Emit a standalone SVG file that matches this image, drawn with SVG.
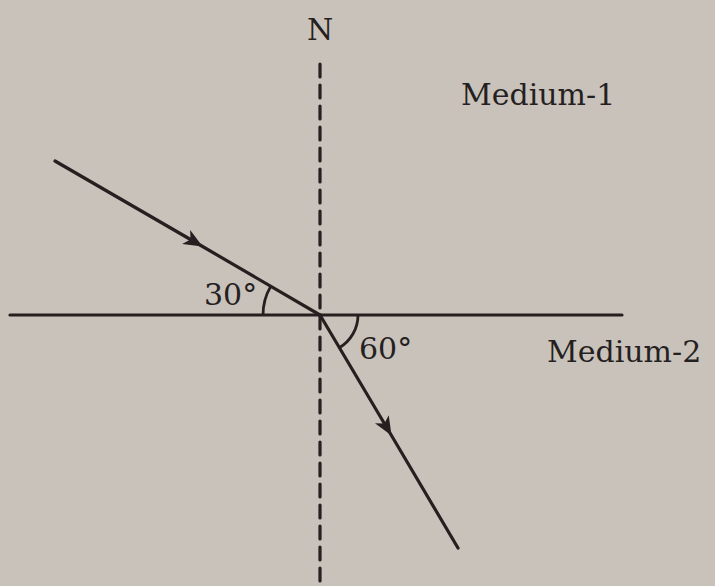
<svg xmlns="http://www.w3.org/2000/svg" width="715" height="586" viewBox="0 0 715 586">
<style>
.ln{stroke:#261f1f;stroke-width:3.2;fill:none;stroke-linecap:round}
.arc{stroke:#261f1f;stroke-width:2.8;fill:none}
.t{font-family:"DejaVu Serif","Liberation Serif",serif;font-size:30px;fill:#261f1f}
</style>
<defs>
<marker id="ah" markerUnits="userSpaceOnUse" markerWidth="40" markerHeight="40" refX="0" refY="0" viewBox="-20 -20 40 40" orient="auto">
<path d="M-16,-8 L3,0 L-16,8 L-11,0 Z" fill="#261f1f"/>
</marker>
</defs>
<rect width="715" height="586" fill="#c8c2bb"/>
<g id="connectors">
<line id="surface" class="ln" x1="10" y1="315" x2="622" y2="315"/>
<line id="normal" class="ln" x1="320" y1="64" x2="320" y2="586" stroke-dasharray="13 8" stroke-linecap="butt"/>
<path id="incident" class="ln" d="M55,161 L200,245 L320,315" marker-mid="url(#ah)"/>
<path id="refracted" class="ln" d="M320,315 L390,433 L458,548" marker-mid="url(#ah)"/>
<path id="arc30" class="arc" d="M263,315 A57,57 0 0 1 270.7,286.4"/>
<path id="arc60" class="arc" d="M358,315 A38,38 0 0 1 339.4,347.7"/>
</g>
<g id="label-N"><text class="t" x="320" y="40" text-anchor="middle">N</text></g>
<g id="label-m1"><text class="t" x="461" y="105">Medium-1</text></g>
<g id="label-m2"><text class="t" x="547" y="362">Medium-2</text></g>
<g id="label-30"><text class="t" x="204" y="305">30°</text></g>
<g id="label-60"><text class="t" x="359" y="359">60°</text></g>
</svg>
